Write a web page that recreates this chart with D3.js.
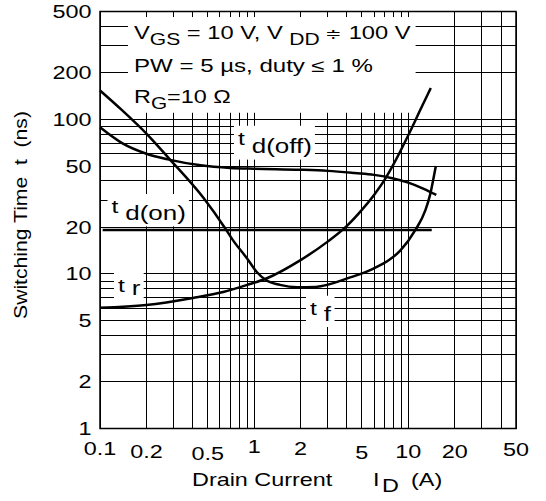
<!DOCTYPE html>
<html>
<head>
<meta charset="utf-8">
<script src="https://cdn.jsdelivr.net/npm/d3@7"></script>
<style>
  body { margin: 0; background: #fff; }
  text { font-family: "Liberation Sans", Arial, Helvetica, sans-serif; fill: #000; white-space: pre; }
</style>
</head>
<body>
<div id="chart"></div>
<script>
// switching time vs drain current, log-log
let xTickLabels = [0.1, 0.2, 0.5, 1, 2, 5, 10, 20, 50]
let yTickLabels = [1, 2, 5, 10, 20, 50, 100, 200, 500]

// [drain current A, time ns]
let tdOff = [[0.1, 89], [0.14, 70], [0.2, 60], [0.28, 55], [0.45, 50.5], [0.7, 48.6], [1, 48],
  [2, 47.3], [3, 46.5], [4.5, 45], [6, 43.8], [8, 41.5], [10, 39], [12.6, 35.6], [15.2, 32.5]]
let tdOn = [[0.104, 19.3], [14.2, 19.3]]
let tr = [[0.1, 6.05], [0.2, 6.3], [0.4, 7.0], [0.63, 7.65], [0.9, 8.5], [1.2, 9.35], [2, 12.3],
  [3, 16.2], [4, 20.5], [5, 26], [6, 32.5], [7, 40.5], [8, 51], [10, 79], [12, 116], [14, 160]]
let tf = [[0.1, 154], [0.14, 114], [0.2, 81], [0.28, 56], [0.47, 31], [0.65, 19.7], [0.73, 16.5],
  [0.9, 12.6], [1.04, 10.3], [1.2, 9.1], [1.47, 8.5], [1.9, 8.2], [2.5, 8.25], [4.2, 9.5], [5.9, 10.8],
  [7.5, 12.3], [8.9, 14.2], [11.1, 19.2], [12.9, 25.8], [13.9, 33], [14.6, 42], [15.1, 50]]

let width = 546
let height = 501
let margin = { top: 11.5, left: 100, right: 30, bottom: 72.5 }

let svg = d3.select('#chart')
  .append('svg')
  .attr('width', width)
  .attr('height', height)
  .style('display', 'block')

let x = d3.scaleLog().domain([0.1, 50]).range([margin.left, width - margin.right])
let y = d3.scaleLog().domain([1, 500]).range([height - margin.bottom, margin.top])

// grid
let grid = svg.append('g')
  .attr('stroke', '#000')
  .attr('stroke-width', 1)
  .attr('shape-rendering', 'crispEdges')

grid.selectAll('.vline')
  .data(x.ticks())
  .enter().append('line')
  .attr('x1', d => x(d)).attr('x2', d => x(d))
  .attr('y1', y.range()[0]).attr('y2', y.range()[1])

grid.selectAll('.hline')
  .data(y.ticks())
  .enter().append('line')
  .attr('y1', d => y(d)).attr('y2', d => y(d))
  .attr('x1', x.range()[0]).attr('x2', x.range()[1])

let bgLayer = svg.append('g')
let curveLayer = svg.append('g')
let textLayer = svg.append('g')

// text helper: parts = [string, size, dy]; glyphs in the original are stretched sideways
function label(parent, px, py, parts, opt = {}) {
  let g = parent.append('g')
  let t = g.append('text').attr('text-anchor', opt.anchor || 'start')
  parts.forEach(p => {
    t.append('tspan').attr('font-size', p[1]).attr('dy', p[2] || 0).text(p[0])
  })
  let sx = opt.width ? opt.width / t.node().getComputedTextLength() : 1.3
  g.attr('transform', 'translate(' + px + ',' + py + ')' + (opt.rotate ? ' rotate(' + opt.rotate + ')' : '') + ' scale(' + sx + ',1)')
  return g
}

function whiteBox(nodes, pad) {
  let boxes = nodes.map(n => n.node().getBoundingClientRect())
  let l = d3.min(boxes, b => b.left), r = d3.max(boxes, b => b.right)
  let t = d3.min(boxes, b => b.top), b = d3.max(boxes, b => b.bottom)
  bgLayer.append('rect')
    .attr('x', l - pad[0]).attr('y', t - pad[1])
    .attr('width', r - l + pad[0] + pad[2])
    .attr('height', b - t + pad[1] + pad[3])
    .attr('fill', '#fff')
}

// conditions box
let cond = [
  label(textLayer, 134, 39.3, [['V', 18], ['GS', 16, 5.7], [' = 10 V, V ', 18, -5.7], ['DD', 16, 5.7], [' \u2251', 15, -5.7], [' 100 V', 18]], { width: 277 }),
  label(textLayer, 134, 71.7, [['PW = 5 \u00b5s, duty \u2264 1 %', 18]], { width: 239 }),
  label(textLayer, 134, 103.3, [['R', 18], ['G', 16, 6], ['=10 \u03a9', 18, -6]])
]
whiteBox(cond, [6, 6, 5, 0])

// curve labels
let curveLabels = [
  { x: 238, y: 145, sub: 'd(off)', dy: 8.3 },
  { x: 111.5, y: 213.3, sub: 'd(on)', dy: 6.7 },
  { x: 118, y: 291.7, sub: 'r', dy: 3.5 },
  { x: 310, y: 315, sub: 'f', dy: 5.7 }
]
curveLabels.forEach(c => {
  let g = label(textLayer, c.x, c.y, [['t ', 19], [c.sub, 20, c.dy]])
  whiteBox([g], [4, 2, 3, 2])
})

// curves
let line = d3.line()
  .x(d => x(d[0]))
  .y(d => y(d[1]))
  .curve(d3.curveMonotoneX)

curveLayer.selectAll('path')
  .data([tdOff, tdOn, tr, tf])
  .enter().append('path')
  .attr('d', line)
  .attr('fill', 'none')
  .attr('stroke', '#000')
  .attr('stroke-width', 2.5)

// frame
svg.append('rect')
  .attr('x', x.range()[0]).attr('y', y.range()[1])
  .attr('width', x.range()[1] - x.range()[0])
  .attr('height', y.range()[0] - y.range()[1])
  .attr('fill', 'none')
  .attr('stroke', '#000')
  .attr('stroke-width', 1.5)

// tick labels (baselines wobble a little in the original)
let xBase = { 0.1: 455, 0.2: 458, 0.5: 459.5, 1: 453, 2: 454.5, 5: 459, 10: 458, 20: 458, 50: 456 }
xTickLabels.forEach(d => {
  label(textLayer, x(d), xBase[d], [[String(d), 18]], { anchor: 'middle' })
})
yTickLabels.forEach(d => {
  label(textLayer, 91.5, y(d) + 6.5, [[String(d), 18]], { anchor: 'end' })
})

// axis titles
label(textLayer, 192, 486, [['Drain Current', 18]])
label(textLayer, 373, 486, [['I', 18]])
label(textLayer, 382, 492, [['D', 18]])
label(textLayer, 411, 486, [['(A)', 18]])
label(textLayer, 26.5, 215, [['Switching Time  t  (ns)', 18]], { anchor: 'middle', rotate: -90, width: 208 })
</script>
</body>
</html>
